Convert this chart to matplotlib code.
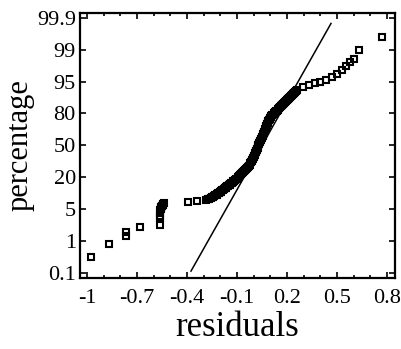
import numpy as np
import matplotlib
matplotlib.use("Agg")
import matplotlib.pyplot as plt
from matplotlib.ticker import FixedLocator, FixedFormatter, MultipleLocator

# ---- data ----
residuals = [
    # sparse lower tail
    -0.978, -0.866, -0.768, -0.768, -0.682, -0.562,
    # tight cluster near -0.56
    -0.561, -0.5605, -0.560, -0.559, -0.557, -0.555, -0.553, -0.551,
    -0.548, -0.546, -0.543, -0.540,
    -0.394, -0.340, -0.286,
    # dense body
    -0.276, -0.266, -0.257, -0.248, -0.241, -0.235, -0.229, -0.222,
    -0.217, -0.212, -0.207, -0.203, -0.198, -0.193, -0.188, -0.183,
    -0.178, -0.173, -0.168, -0.163, -0.158, -0.154, -0.149, -0.144,
    -0.139, -0.135, -0.130, -0.125, -0.121, -0.116, -0.111, -0.106, -0.102,
    -0.096, -0.088, -0.081, -0.073, -0.067, -0.062, -0.057, -0.052, -0.047,
    -0.040, -0.034, -0.028, -0.022, -0.019, -0.015, -0.012, -0.009, -0.006,
    -0.003, 0.000, 0.003, 0.006, 0.008, 0.011, 0.014, 0.016, 0.019, 0.021,
    0.024, 0.027, 0.029, 0.032, 0.035, 0.038, 0.041, 0.044, 0.046, 0.049,
    0.051, 0.054, 0.056, 0.059, 0.062, 0.064, 0.067, 0.070, 0.073, 0.075,
    0.077, 0.079, 0.082, 0.084, 0.086, 0.089, 0.093, 0.096, 0.099, 0.102,
    0.107, 0.113,
    0.120, 0.124, 0.129, 0.134, 0.139, 0.144, 0.148, 0.153, 0.158, 0.163,
    0.168, 0.173, 0.178, 0.183, 0.188, 0.193, 0.199, 0.204, 0.209, 0.215,
    0.220, 0.225, 0.230, 0.235, 0.240, 0.245, 0.250, 0.255, 0.260,
    # sparse upper tail
    0.296, 0.332, 0.368, 0.398, 0.434, 0.470, 0.500, 0.530, 0.554, 0.578,
    0.602, 0.632, 0.770,
]
percentage = [
    0.56, 0.91, 1.6, 2.1, 2.8, 3.0,
    3.85, 4.2, 4.55, 4.9, 5.25, 5.6, 5.95, 6.3,
    6.65, 7.0, 7.35, 7.7,
    8.3, 8.8, 9.4,
    9.7, 10.0, 10.3, 10.6, 10.9, 11.2, 11.5, 11.8,
    12.1, 12.4, 12.7, 13.0, 13.3, 13.6, 13.9, 14.2,
    14.5, 14.8, 15.1, 15.4, 15.7, 16.0, 16.3, 16.6,
    16.9, 17.2, 17.5, 17.8, 18.1, 18.4, 18.7, 19.0, 19.3,
    20, 21, 22, 23, 24, 25, 26, 27, 28,
    29, 30, 31, 32, 33, 34, 35, 36, 37,
    38, 39, 40, 41, 42, 43, 44, 45, 46, 47,
    48, 49, 50, 51, 52, 53, 54, 55, 56, 57,
    58, 59, 60, 61, 62, 63, 64, 65, 66, 67,
    68, 69, 70, 71, 72, 73, 74, 75, 76, 77,
    78, 79,
    79.8, 80.2, 80.6, 81.0, 81.4, 81.8, 82.2, 82.6, 83.0, 83.4,
    83.8, 84.2, 84.6, 85.0, 85.4, 85.8, 86.2, 86.6, 87.0, 87.4,
    87.8, 88.2, 88.6, 89.0, 89.4, 89.8, 90.2, 90.6, 91.0,
    92.4, 93.3, 94.3, 94.7, 95.2, 95.6, 95.9, 96.4, 96.9, 97.4,
    97.8, 98.9, 99.36,
]
fit_x = [-0.376, 0.464]
fit_pct = [0.154, 99.74]

y_ticks = [0.1, 1, 5, 20, 50, 80, 95, 99, 99.9]
y_labels = ["0.1", "1", "5", "20", "50", "80", "95", "99", "99.9"]
x_ticks = [-1, -0.7, -0.4, -0.1, 0.2, 0.5, 0.8]
x_labels = ["-1", "-0.7", "-0.4", "-0.1", "0.2", "0.5", "0.8"]

# ---- probability-paper style scale: tick values equally spaced ----
P_EXT = np.array([-0.8] + y_ticks + [100.8])
I_EXT = np.arange(len(P_EXT)) - 1.0

def fwd(p):
    return np.interp(p, P_EXT, I_EXT)

def inv(i):
    return np.interp(i, I_EXT, P_EXT)

plt.rcParams['font.family'] = ['Liberation Serif', 'DejaVu Serif']

fig = plt.figure(figsize=(4.02, 3.49), dpi=100)
ax = fig.add_axes([80/402, 1-278/349, (395-80)/402, (278-13)/349])
ax.set_yscale('function', functions=(fwd, inv))

ax.plot(residuals, percentage, linestyle='none', marker='s', ms=5,
        mfc='none', mec='black', mew=1.5)
ax.plot(fit_x, fit_pct, color='black', lw=1.1)

ax.set_xlim(-1.042, 0.848)
ax.set_ylim(inv(-0.157), inv(8.15))

ax.xaxis.set_major_locator(FixedLocator(x_ticks))
ax.xaxis.set_major_formatter(FixedFormatter(x_labels))
ax.xaxis.set_minor_locator(MultipleLocator(0.1))
ax.yaxis.set_major_locator(FixedLocator(y_ticks))
ax.yaxis.set_major_formatter(FixedFormatter(y_labels))
ax.yaxis.set_minor_locator(FixedLocator([]))

ax.tick_params(which='both', direction='in', top=True, right=True,
               width=1.2, labelsize=16, colors='black')
ax.tick_params(which='major', length=4)
ax.tick_params(which='minor', length=2.5)
ax.tick_params(axis='x', pad=8)
ax.tick_params(axis='y', pad=3)
for s in ax.spines.values():
    s.set_linewidth(1.6)

ax.set_xlabel("residuals", fontsize=25, labelpad=2)
ax.set_ylabel("percentage", fontsize=22, labelpad=2)

fig.savefig("out.png", dpi=100)
